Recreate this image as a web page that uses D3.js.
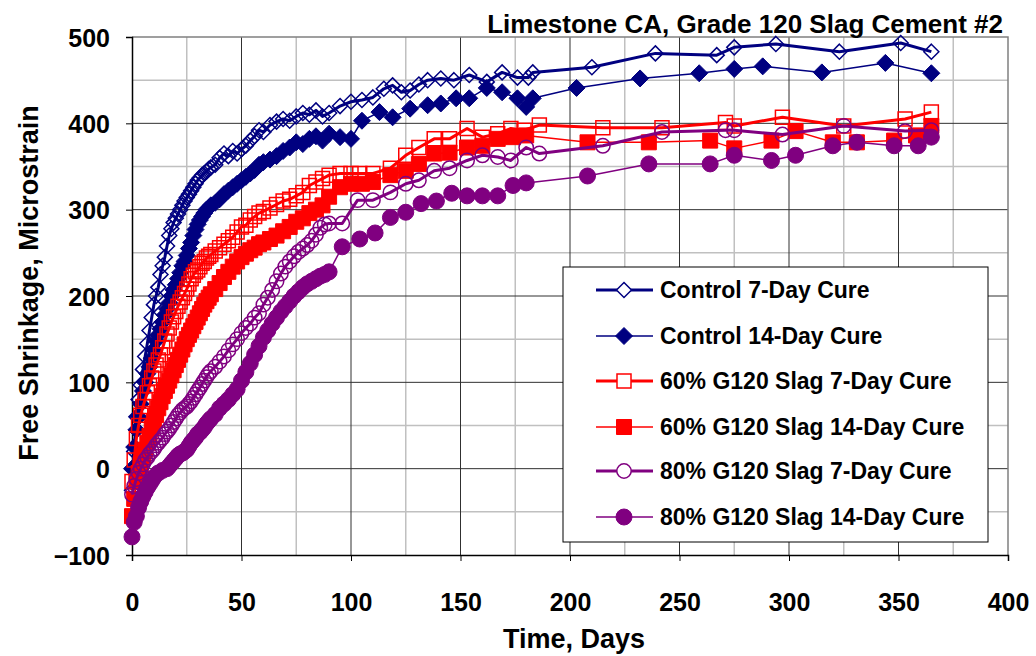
<!DOCTYPE html>
<html><head><meta charset="utf-8">
<script src="https://cdn.jsdelivr.net/npm/d3@7"></script>
<style>body{margin:0;background:#fff}svg{display:block}text{font-family:"Liberation Sans",Arial,sans-serif;font-weight:bold}</style>
</head><body><svg id="c" width="1036" height="656"></svg>
<script>
// ---- data ----
const seriesNames = ["Control 7-Day Cure","Control 14-Day Cure","60% G120 Slag 7-Day Cure","60% G120 Slag 14-Day Cure","80% G120 Slag 7-Day Cure","80% G120 Slag 14-Day Cure"];
const xTicks = [0,50,100,150,200,250,300,350,400];
const yTicks = [-100,0,100,200,300,400,500];
const titleText = "Limestone CA, Grade 120 Slag Cement #2";

const c7Days = [0,1,2,3,4,5,6,7,8,9,10,11,12,13,14,15,16,17,18,19,20,21,22,23,24,25,26,27,28,29,30,31,32,33,34,35,36,38,40,42,44,46,48,50,52,54,56,58,60,63,66,69,72,75,78,81,84,87,90,95,100,105,110,115,119,123,127,131,135,141,147,154,162,169,176,181,183,210,239,267,275,294,323,351,365];
const c7Vals = [-25,20,60,80,97,115,130,145,160,175,190,200,210,225,235,245,258,270,278,285,290,295,300,305,310,314,318,322,326,330,334,337,340,342,344,347,349,352,360,365,362,368,365,370,374,380,385,392,390,398,402,405,403,408,412,410,415,408,412,420,425,427,430,440,444,436,438,445,450,452,450,456,448,459,453,453,459,465,481,479,488,492,483,493,483];

const c14Days = [0,1,2,3,4,5,6,7,8,9,10,11,12,13,14,15,16,17,18,19,20,21,22,23,24,25,26,27,28,29,30,31,32,33,34,35,36,38,40,42,44,46,48,50,52,54,56,58,60,63,66,69,72,75,78,81,84,87,90,95,100,105,113,119,127,135,141,148,154,162,169,176,180,183,203,232,259,275,288,315,344,365];
const c14Vals = [0,25,45,60,75,90,100,110,118,128,138,148,155,162,170,178,185,192,200,207,213,220,227,235,240,247,255,262,270,277,283,288,292,296,300,302,305,308,312,318,322,326,330,334,338,342,346,352,355,358,362,368,372,378,376,382,385,380,388,384,382,403,413,407,417,421,423,429,429,441,436,429,419,429,441,452,458,463,466,459,470,458];

const s7Days = [0,1,2,3,4,5,6,7,8,9,10,11,12,13,14,15,16,17,18,19,20,21,22,23,24,25,26,27,28,29,30,31,32,33,34,35,36,38,40,42,44,46,48,50,52,54,56,58,60,63,66,69,72,75,78,81,84,87,90,95,100,104,110,118,125,131,138,145,153,160,167,173,179,186,215,242,271,275,297,325,353,365];
const s7Vals = [-15,10,35,50,62,72,80,88,96,105,113,120,126,132,140,148,156,163,170,176,182,188,193,198,203,208,214,220,224,228,230,234,238,240,244,246,248,252,256,260,264,268,274,280,282,288,292,296,298,302,306,310,312,316,320,328,332,336,340,342,342,342,342,348,363,372,382,382,394,384,388,394,392,398,395,395,401,397,407,397,405,413];

const s14Days = [0,1,2,3,4,5,6,7,8,9,10,11,12,13,14,15,16,17,18,19,20,21,22,23,24,25,26,27,28,29,30,31,32,33,34,35,36,38,40,42,44,46,48,50,52,54,56,58,60,63,66,69,72,75,78,81,84,87,90,95,100,105,110,118,125,131,138,145,153,160,167,174,180,208,236,264,275,292,303,320,331,348,358,365];
const s14Vals = [-55,-35,-15,-5,5,15,22,30,38,47,55,62,70,77,84,90,96,102,108,114,120,126,132,138,144,150,155,160,165,170,175,180,185,190,194,198,202,208,215,222,228,234,240,245,249,253,256,260,262,266,270,275,280,286,290,296,300,305,315,326,330,330,332,340,345,353,365,366,372,374,382,384,386,378,378,380,371,380,391,378,378,380,386,397];

const p7Days = [0,1,2,3,4,5,6,7,8,9,10,11,12,13,14,15,16,17,18,19,20,21,22,23,24,25,26,27,28,29,30,31,32,33,34,35,36,38,40,42,44,46,48,50,52,54,56,58,60,62,64,66,68,70,72,74,76,78,80,82,84,86,88,90,96,103,110,118,125,131,138,145,153,160,167,173,180,186,215,242,271,275,297,325,353,365];
const p7Vals = [-30,-20,-12,-5,0,5,10,13,17,20,23,27,30,33,36,40,43,46,50,54,58,62,65,68,70,72,75,78,82,86,90,94,98,102,106,110,113,118,124,130,137,144,150,157,163,168,175,180,190,198,207,217,226,234,240,246,251,255,259,264,271,279,283,284,284,311,311,320,330,334,345,348,357,363,361,357,372,365,374,390,392,392,387,397,391,392];

const p14Days = [0,1,2,3,4,5,6,7,8,9,10,12,14,16,17,18,19,20,21,22,23,24,25,26,27,28,29,30,31,32,33,34,35,36,38,40,42,44,46,48,50,52,54,56,58,60,62,64,66,68,70,72,74,76,78,80,82,84,86,88,90,96,104,111,118,125,132,139,146,153,160,167,174,180,208,236,264,275,292,303,320,331,348,359,365];
const p14Vals = [-79,-62,-55,-45,-38,-32,-27,-22,-18,-14,-10,-5,-2,0,3,6,9,12,15,17,18,20,22,26,30,33,36,40,42,45,48,52,55,58,63,70,75,80,86,92,102,112,122,132,142,152,160,168,175,182,188,194,200,205,210,214,217,220,223,225,228,257,266,273,291,297,307,310,319,316,316,316,328,331,339,353,353,363,357,363,374,378,374,374,384];

// ---- setup ----
const svg = d3.select("#c");
const L = 132, R = 1008, T = 37, B = 555;
const x = d3.scaleLinear().domain([0,400]).range([L,R]);
const y = d3.scaleLinear().domain([-100,500]).range([B,T]);

const navy = "#000080", red = "#ff0000", purple = "#800080";
const series = [
  {name:seriesNames[0], d:c7Days, v:c7Vals, color:navy, shape:"diamond", filled:false, lw:3},
  {name:seriesNames[1], d:c14Days, v:c14Vals, color:navy, shape:"diamond", filled:true, lw:1.5},
  {name:seriesNames[2], d:s7Days, v:s7Vals, color:red, shape:"square", filled:false, lw:3},
  {name:seriesNames[3], d:s14Days, v:s14Vals, color:red, shape:"square", filled:true, lw:1.5},
  {name:seriesNames[4], d:p7Days, v:p7Vals, color:purple, shape:"circle", filled:false, lw:3},
  {name:seriesNames[5], d:p14Days, v:p14Vals, color:purple, shape:"circle", filled:true, lw:1.5}
];

function markerPath(shape, filled){
  if(shape==="diamond"){ const r = filled?8.5:7.5; return `M0,${-r}L${r},0L0,${r}L${-r},0Z`; }
  if(shape==="square"){ const h = filled?7.5:7; return `M${-h},${-h}H${h}V${h}H${-h}Z`; }
  const r = filled?8:7.2; return `M${r},0A${r},${r} 0 1,1 ${-r},0A${r},${r} 0 1,1 ${r},0Z`;
}

// grid
const g = svg.append("g");
const minorX = d3.range(25,400,50), minorY = d3.range(-50,500,100);
g.selectAll(".mx").data(minorX).join("line").attr("x1",d=>x(d)).attr("x2",d=>x(d)).attr("y1",T).attr("y2",B).attr("stroke","#c0c0c0").attr("stroke-width",1.5);
g.selectAll(".my").data(minorY).join("line").attr("x1",L).attr("x2",R).attr("y1",d=>y(d)).attr("y2",d=>y(d)).attr("stroke","#c0c0c0").attr("stroke-width",1.5);
g.selectAll(".Mx").data(xTicks.slice(1,-1)).join("line").attr("x1",d=>x(d)).attr("x2",d=>x(d)).attr("y1",T).attr("y2",B).attr("stroke","#303030").attr("stroke-width",1);
g.selectAll(".My").data(yTicks.slice(1,-1)).join("line").attr("x1",L).attr("x2",R).attr("y1",d=>y(d)).attr("y2",d=>y(d)).attr("stroke","#303030").attr("stroke-width",1);
g.append("path").attr("d",`M${L},${T}H${R}V${B}`).attr("fill","none").attr("stroke","#808080").attr("stroke-width",1.5);

// axes
const xAxis = d3.axisBottom(x).tickValues(xTicks).tickSize(6).tickFormat(d3.format("d"));
const yAxis = d3.axisLeft(y).tickValues(yTicks).tickSize(6).tickFormat(d3.format("d"));
const gx = svg.append("g").attr("transform",`translate(0,${B})`).call(xAxis);
const gy = svg.append("g").attr("transform",`translate(${L},0)`).call(yAxis);
[gx,gy].forEach(a=>{a.select(".domain").attr("stroke","#000").attr("stroke-width",1.5);a.selectAll(".tick line").attr("stroke","#000");a.selectAll("text").attr("fill","#000").style("font-size","25px");});
gx.selectAll("text").attr("y",56).attr("dy",0);
gy.selectAll("text").attr("x",-22).attr("dy","0.36em");

// series
const plot = svg.append("g");
const line = d3.line();
series.forEach(s=>{
  const pts = s.d.map((d,i)=>[x(d), y(s.v[i])]);
  const gg = plot.append("g");
  gg.append("path").attr("d",line(pts)).attr("fill","none").attr("stroke",s.color).attr("stroke-width",s.lw).attr("stroke-linejoin","round");
  gg.selectAll("path.m").data(pts).join("path").attr("class","m")
    .attr("transform",p=>`translate(${p[0]},${p[1]})`).attr("d",markerPath(s.shape,s.filled))
    .attr("fill",s.filled?s.color:"none").attr("stroke",s.color).attr("stroke-width",s.filled?1:1.5);
});

// titles
svg.append("text").attr("x",1003).attr("y",33).attr("text-anchor","end").style("font-size","26px").text(titleText);
svg.append("text").attr("x",574).attr("y",648).attr("text-anchor","middle").style("font-size","27px").text("Time, Days");
svg.append("text").attr("transform","translate(38,283) rotate(-90)").attr("text-anchor","middle").style("font-size","27px").text("Free Shrinkage, Microstrain");

// legend
const lg = svg.append("g");
lg.append("rect").attr("x",563).attr("y",267).attr("width",425).attr("height",275).attr("fill","#fff").attr("stroke","#000").attr("stroke-width",1);
const rowY = [290,336,381,427,471,517];
series.forEach((s,i)=>{
  const yy = rowY[i];
  lg.append("line").attr("x1",596).attr("x2",653).attr("y1",yy).attr("y2",yy).attr("stroke",s.color).attr("stroke-width",s.lw);
  lg.append("path").attr("transform",`translate(624,${yy})`).attr("d",markerPath(s.shape,s.filled)).attr("fill",s.filled?s.color:"#fff").attr("stroke",s.color).attr("stroke-width",s.filled?1:1.5);
  lg.append("text").attr("x",660).attr("y",yy+8).style("font-size","23px").text(s.name);
});
</script></body></html>
